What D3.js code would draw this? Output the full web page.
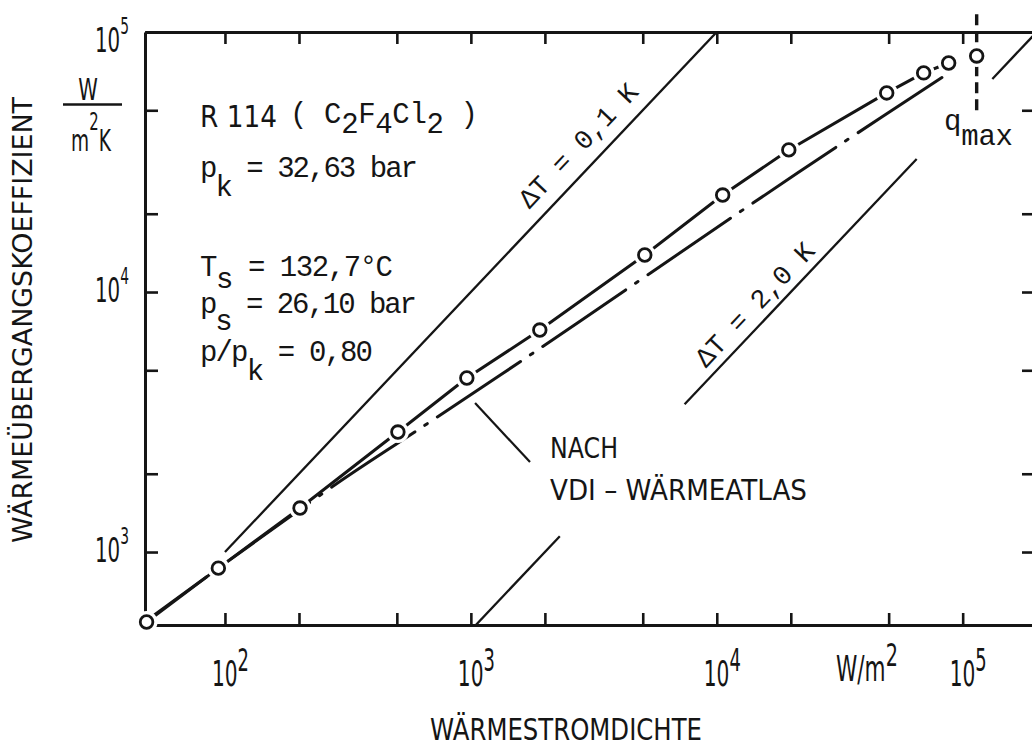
<!DOCTYPE html>
<html>
<head>
<meta charset="utf-8">
<script src="https://cdn.jsdelivr.net/npm/d3@7"></script>
<style>
  html, body { margin: 0; padding: 0; background: #fff; }
  svg { display: block; }
</style>
</head>
<body>
<svg id="chart" width="1032" height="749"></svg>
<script>
// ---------------- DATA ----------------
// measured boiling curve R114 (heat flux q in W/m², heat transfer coefficient α in W/m²K)
const heatFlux = [48, 94, 202, 505, 963, 1907, 5096, 10570, 19630, 49100, 69400, 87700];
const htc      = [538, 867, 1476, 2894, 4670, 7140, 13880, 23600, 35200, 58300, 69600, 76000];
// last measured point at the critical heat flux q_max
const qMaxFlux = [114000];
const qMaxHtc  = [80900];
const qMaxLineHtc = [117000, 49000];
// correlation "nach VDI-Wärmeatlas"
const vdiFlux = [49.5, 272, 591, 1581, 4560, 12390, 31600, 83000];
const vdiHtc  = [557, 1778, 2894, 5380, 10640, 20300, 36800, 67100];
// lines of constant superheat ΔT (α = q / ΔT)
const deltaT = [0.1, 2.0];
const deltaTLabels = ["ΔT = 0,1 K", "ΔT = 2,0 K"];
const dt01Segments = [[100, 10000]];
const dt2Segments  = [[1000, 2300], [7400, 65000], [132000, 210000]];
// leader from label "NACH VDI-WÄRMEATLAS" to the correlation curve
const leaderFlux = [1040, 1740];
const leaderHtc  = [3740, 2220];
// axes
const xDomain = [47.3, 195000];
const yDomain = [524, 100000];
const xTicks = [100, 200, 500, 1000, 2000, 5000, 10000, 20000, 50000, 100000];
const yTicks = [1000, 2000, 5000, 10000, 20000, 50000, 100000];
const xTickLabels = [100, 1000, 10000, 100000];
const yTickLabels = [1000, 10000, 100000];

// ---------------- SETUP ----------------
const INK = "#151515";
const SANS = "DejaVu Sans, Roboto, sans-serif";
const MONO = "Liberation Mono, DejaVu Sans Mono, monospace";
const svg = d3.select("#chart");
const M = { left: 145, right: 1034, top: 32, bottom: 625 };

const x = d3.scaleLog().domain(xDomain).range([M.left, M.right]);
const y = d3.scaleLog().domain(yDomain).range([M.bottom, M.top]);

svg.append("defs").append("clipPath").attr("id", "plot")
  .append("rect").attr("x", M.left).attr("y", M.top)
  .attr("width", M.right - M.left).attr("height", M.bottom - M.top);

function addText(parent, px, py, parts, o) {
  let tf = `translate(${px},${py})`;
  if (o.rotate) tf += ` rotate(${o.rotate})`;
  if (o.sx) tf += ` scale(${o.sx},1)`;
  const t = parent.append("text")
    .attr("transform", tf)
    .attr("y", o.y0 || 0)
    .attr("font-family", o.family)
    .attr("font-size", o.size)
    .attr("fill", INK)
    .attr("text-anchor", o.anchor || "start");
  let cur = 0;
  parts.forEach(p => {
    const off = p.off || 0;
    const ts = t.append("tspan").text(p.t);
    if (off !== cur) ts.attr("dy", off - cur);
    if (p.size) ts.attr("font-size", p.size);
    cur = off;
  });
  if (o.len) t.attr("textLength", o.len).attr("lengthAdjust", o.adjust || "spacing");
  return t;
}

// ---------------- AXES / FRAME ----------------
const axes = svg.append("g").attr("color", INK);
function styleAxis(g) {
  g.selectAll("text").remove();
  g.select(".domain").attr("stroke-width", 3);
  g.selectAll(".tick line").attr("stroke-width", 2.6);
}
axes.append("g").attr("transform", `translate(0,${M.bottom})`)
  .call(d3.axisBottom(x).tickValues(xTicks).tickSize(-12).tickSizeOuter(0).tickFormat(""))
  .call(styleAxis);
axes.append("g").attr("transform", `translate(0,${M.top})`)
  .call(d3.axisTop(x).tickValues(xTicks).tickSize(-12).tickSizeOuter(0).tickFormat(""))
  .call(styleAxis);
axes.append("g").attr("transform", `translate(${M.left},0)`)
  .call(d3.axisLeft(y).tickValues(yTicks).tickSize(-13).tickSizeOuter(0).tickFormat(""))
  .call(styleAxis);
axes.append("g").attr("transform", `translate(${M.right},0)`)
  .call(d3.axisRight(y).tickValues(yTicks).tickSize(-12).tickSizeOuter(0).tickFormat(""))
  .call(styleAxis);

// tick labels
const labels = svg.append("g");
xTickLabels.forEach(v => {
  addText(labels, x(v) - 13, 686,
    [{ t: "10" }, { t: String(Math.round(Math.log10(v))), off: -15, size: 32 }],
    { family: SANS, size: 36, sx: 0.56 });
});
yTickLabels.forEach(v => {
  const by = Math.max(y(v) + 10, M.top + 20);
  addText(labels, 129, by,
    [{ t: "10" }, { t: String(Math.round(Math.log10(v))), off: -18, size: 23 }],
    { family: SANS, size: 33, sx: 0.6, anchor: "end" });
});

// units
addText(labels, 88, 100, [{ t: "W" }], { family: SANS, size: 30, sx: 0.66, anchor: "middle" });
labels.append("line").attr("x1", 63).attr("x2", 122).attr("y1", 104.5).attr("y2", 104.5)
  .attr("stroke", INK).attr("stroke-width", 2.4);
addText(labels, 91, 151, [{ t: "m" }, { t: "2", off: -21, size: 24 }, { t: "K", off: 0 }],
  { family: SANS, size: 30, sx: 0.62, anchor: "middle" });
addText(labels, 836, 681, [{ t: "W/m" }, { t: "2", off: -15, size: 32 }],
  { family: SANS, size: 36, sx: 0.6 });

// axis titles
addText(labels, 32, 320, [{ t: "WÄRMEÜBERGANGSKOEFFIZIENT" }],
  { family: SANS, size: 27, rotate: -90, anchor: "middle", len: 446, adjust: "spacingAndGlyphs" });
addText(labels, 430, 740, [{ t: "WÄRMESTROMDICHTE" }],
  { family: SANS, size: 30, len: 272, adjust: "spacingAndGlyphs" });

// ---------------- CONSTANT-ΔT LINES ----------------
const plot = svg.append("g").attr("clip-path", "url(#plot)");
const seg = d3.line().x(d => x(d[0])).y(d => y(d[1]));
[dt01Segments, dt2Segments].forEach((segs, i) => {
  segs.forEach(s => {
    plot.append("path")
      .attr("d", seg(s.map(q => [q, q / deltaT[i]])))
      .attr("fill", "none").attr("stroke", INK).attr("stroke-width", 2.3);
  });
});
// ΔT labels along the lines
const dtLabelAt = [3190, 16100];
const dtLabelGap = [23, 18];
deltaT.forEach((dt, i) => {
  const q = dtLabelAt[i];
  const p0 = [x(q), y(q / dt)];
  const p1 = [x(q * 10), y(q * 10 / dt)];
  const a = Math.atan2(p1[1] - p0[1], p1[0] - p0[0]);
  const n = [Math.sin(a), -Math.cos(a)];
  const cx = p0[0] + dtLabelGap[i] * n[0];
  const cy = p0[1] + dtLabelGap[i] * n[1];
  addText(svg, cx, cy, [{ t: deltaTLabels[i] }],
    { family: MONO, size: 27, rotate: a * 180 / Math.PI, anchor: "middle", y0: 9, len: 160 });
});

// ---------------- VDI CORRELATION (dash-dot) ----------------
const vdiPts = vdiFlux.map((q, i) => [x(q), y(vdiHtc[i])]);
svg.append("path")
  .attr("d", d3.line().curve(d3.curveCatmullRom)(vdiPts))
  .attr("fill", "none").attr("stroke", INK).attr("stroke-width", 3)
  .attr("stroke-dasharray", "100,12,3,12").attr("stroke-dashoffset", 30)
  .attr("stroke-linecap", "round");

// leader
svg.append("path")
  .attr("d", seg(leaderFlux.map((q, i) => [q, leaderHtc[i]])))
  .attr("stroke", INK).attr("stroke-width", 2.2).attr("fill", "none");

// ---------------- MEASURED DATA ----------------
const pts = heatFlux.map((q, i) => [q, htc[i]]);
svg.append("path")
  .attr("d", seg(pts))
  .attr("fill", "none").attr("stroke", INK).attr("stroke-width", 3);

// q_max dashed line
svg.append("path")
  .attr("d", seg(qMaxLineHtc.map(a => [qMaxFlux[0], a])))
  .attr("stroke", INK).attr("stroke-width", 3.4).attr("stroke-dasharray", "11,6").attr("fill", "none");

const allPts = pts.concat(qMaxFlux.map((q, i) => [q, qMaxHtc[i]]));
const marks = svg.append("g");
marks.selectAll("circle.halo").data(allPts).join("circle").attr("class", "halo")
  .attr("cx", d => x(d[0])).attr("cy", d => y(d[1])).attr("r", 11).attr("fill", "#fff");
marks.selectAll("circle.pt").data(allPts).join("circle").attr("class", "pt")
  .attr("cx", d => x(d[0])).attr("cy", d => y(d[1])).attr("r", 6.3)
  .attr("fill", "#fff").attr("stroke", INK).attr("stroke-width", 2.8);

// ---------------- ANNOTATIONS ----------------
const ann = svg.append("g");
addText(ann, 200, 127, [{ t: "R 114" }], { family: SANS, size: 30, len: 77, adjust: "spacingAndGlyphs" });
addText(ann, 290, 123,
  [{ t: "( C" }, { t: "2", off: 10 }, { t: "F", off: 0 }, { t: "4", off: 10 }, { t: "Cl", off: 0 }, { t: "2", off: 10 }, { t: " )", off: 0 }],
  { family: MONO, size: 29, len: 188 });
addText(ann, 200, 177, [{ t: "p" }, { t: "k", off: 19 }, { t: " = 32,63 bar", off: 0 }],
  { family: MONO, size: 29, len: 218 });
addText(ann, 200, 276, [{ t: "T" }, { t: "s", off: 12 }, { t: " = 132,7°C", off: 0 }],
  { family: MONO, size: 29, len: 193 });
addText(ann, 200, 313, [{ t: "p" }, { t: "s", off: 17 }, { t: " = 26,10 bar", off: 0 }],
  { family: MONO, size: 29, len: 217 });
addText(ann, 200, 361, [{ t: "p/p" }, { t: "k", off: 19 }, { t: " = 0,80", off: 0 }],
  { family: MONO, size: 29, len: 173 });

addText(ann, 944, 130, [{ t: "q" }, { t: "max", off: 15 }], { family: MONO, size: 29, len: 69 });

addText(ann, 550, 458, [{ t: "NACH" }], { family: SANS, size: 29, len: 68, adjust: "spacingAndGlyphs" });
addText(ann, 550, 500, [{ t: "VDI – WÄRMEATLAS" }], { family: SANS, size: 29, len: 257, adjust: "spacingAndGlyphs" });
</script>
</body>
</html>
